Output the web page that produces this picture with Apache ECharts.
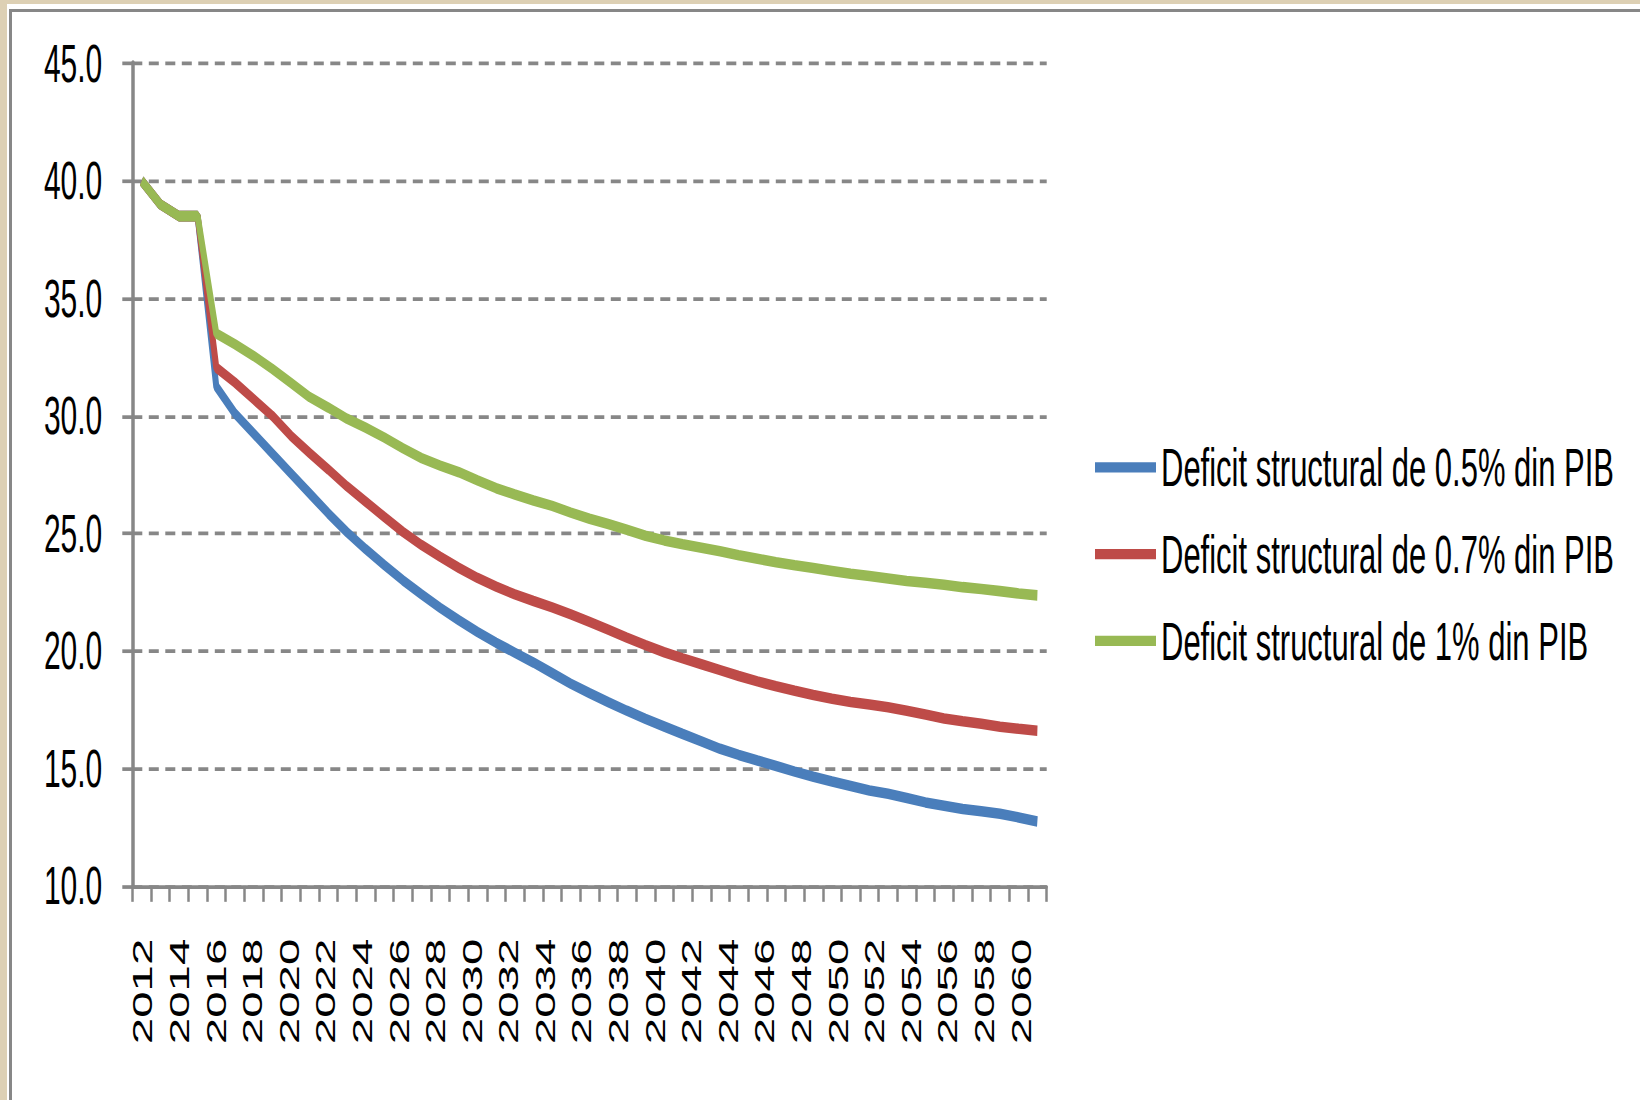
<!DOCTYPE html>
<html>
<head>
<meta charset="utf-8">
<script src="https://cdn.jsdelivr.net/npm/echarts@6.0.0/dist/echarts.min.js"></script>
<style>
  html, body { margin: 0; padding: 0; background: #ffffff; width: 1640px; height: 1100px; overflow: hidden; }
  #beigeL { position: absolute; left: 0; top: 0; width: 7px; height: 1100px; background: #ddd0b4; }
  #beigeT { position: absolute; left: 0; top: 0; width: 1640px; height: 4px; background: #ddd0b4; }
  #frame { position: absolute; left: 9px; top: 9px; width: 1631px; height: 1091px; box-sizing: border-box;
           border-left: 3.5px solid #878787; border-top: 3.5px solid #878787; }
  #chart { position: absolute; left: 0; top: 0; width: 1640px; height: 625px;
           transform: scaleY(1.76); transform-origin: 0 0; }
</style>
</head>
<body>
<div id="beigeL"></div>
<div id="beigeT"></div>
<div id="frame"></div>
<div id="chart"></div>
<script>
// ---- data ----
const years = ['2012','2013','2014','2015','2016','2017','2018','2019','2020','2021',
  '2022','2023','2024','2025','2026','2027','2028','2029','2030','2031',
  '2032','2033','2034','2035','2036','2037','2038','2039','2040','2041',
  '2042','2043','2044','2045','2046','2047','2048','2049','2050','2051',
  '2052','2053','2054','2055','2056','2057','2058','2059','2060'];

const seriesNames = ['Deficit structural de 0.5% din PIB',
                     'Deficit structural de 0.7% din PIB',
                     'Deficit structural de 1% din PIB'];

const deficit05 = [40.0, 39.0, 38.5, 38.5, 31.25, 30.1, 29.25, 28.4, 27.55, 26.7,
  25.85, 25.05, 24.33, 23.65, 23.0, 22.4, 21.83, 21.3, 20.8, 20.34,
  19.92, 19.5, 19.05, 18.6, 18.2, 17.82, 17.45, 17.1, 16.78, 16.46,
  16.15, 15.83, 15.57, 15.33, 15.1, 14.86, 14.64, 14.44, 14.25, 14.06,
  13.92, 13.74, 13.55, 13.41, 13.27, 13.17, 13.07, 12.91, 12.74];

const deficit07 = [40.0, 39.0, 38.5, 38.5, 32.05, 31.42, 30.71, 30.0, 29.15, 28.42,
  27.72, 27.0, 26.35, 25.7, 25.06, 24.5, 24.0, 23.53, 23.1, 22.73,
  22.4, 22.12, 21.85, 21.55, 21.23, 20.9, 20.56, 20.24, 19.94, 19.68,
  19.43, 19.18, 18.93, 18.7, 18.49, 18.3, 18.12, 17.96, 17.82, 17.72,
  17.6, 17.45, 17.29, 17.12, 17.0, 16.9, 16.77, 16.68, 16.6];

const deficit10 = [40.0, 39.0, 38.5, 38.5, 33.5, 33.05, 32.55, 32.0, 31.4, 30.8,
  30.35, 29.88, 29.5, 29.08, 28.62, 28.2, 27.88, 27.6, 27.25, 26.92,
  26.65, 26.4, 26.17, 25.88, 25.62, 25.4, 25.15, 24.9, 24.7, 24.54,
  24.39, 24.24, 24.07, 23.92, 23.77, 23.64, 23.52, 23.4, 23.28, 23.18,
  23.08, 22.97, 22.9, 22.81, 22.71, 22.63, 22.54, 22.44, 22.36];

const yMin = 10, yMax = 45, yStep = 5;

// ---- chart ----
const gray = '#878787';
const chart = echarts.init(document.getElementById('chart'), null, { renderer: 'svg' });
const lineW = 6;
const font = "'Liberation Sans', Arial, sans-serif";

chart.setOption({
  animation: false,
  backgroundColor: 'transparent',
  grid: [
    { left: 132.3, top: 36, width: 914.4, height: 467.3 },
    { left: 133.85, top: 36, width: 896.4, height: 467.3 }
  ],
  legend: {
    orient: 'vertical',
    left: 1090,
    top: 243.5,
    itemWidth: 61,
    itemHeight: 5.8,
    itemGap: 15.3,
    icon: 'rect',
    selectedMode: false,
    textStyle: { fontFamily: font, fontSize: 31, color: '#000', lineHeight: 34 },
    data: seriesNames
  },
  xAxis: [
    {
      type: 'category', gridIndex: 0, data: years, boundaryGap: true,
      axisLine: { show: true, lineStyle: { color: gray, width: 2.1 } },
      axisTick: { show: true, interval: 0, length: 9.1, lineStyle: { color: gray, width: 2.5 } },
      axisLabel: { show: false },
      splitLine: { show: false }
    },
    {
      type: 'category', gridIndex: 1, data: years, boundaryGap: true,
      axisLine: { show: false }, axisTick: { show: false }, splitLine: { show: false },
      axisLabel: {
        show: true, interval: 1, rotate: 90, margin: 30,
        fontFamily: font, fontSize: 27, color: '#000'
      }
    }
  ],
  yAxis: [
    {
      type: 'value', gridIndex: 0, min: yMin, max: yMax, interval: yStep,
      axisLine: { show: true, lineStyle: { color: gray, width: 3.5 } },
      axisTick: { show: true, length: 10, lineStyle: { color: gray, width: 2.1 } },
      axisLabel: {
        margin: 30, fontFamily: font, fontSize: 30, color: '#000',
        padding: [6, 0, 0, 0],
        formatter: v => v.toFixed(1)
      },
      splitLine: { show: true, lineStyle: { color: gray, width: 2.1, type: [10, 6.5] } }
    },
    { type: 'value', gridIndex: 1, min: yMin, max: yMax, show: false }
  ],
  series: [
    { name: seriesNames[0], type: 'line', data: deficit05, xAxisIndex: 0, yAxisIndex: 0,
      symbol: 'none', smooth: false, color: '#4A7EBB', lineStyle: { width: lineW, color: '#4A7EBB' } },
    { name: seriesNames[1], type: 'line', data: deficit07, xAxisIndex: 0, yAxisIndex: 0,
      symbol: 'none', smooth: false, color: '#BE4B48', lineStyle: { width: lineW, color: '#BE4B48' } },
    { name: seriesNames[2], type: 'line', data: deficit10, xAxisIndex: 0, yAxisIndex: 0,
      symbol: 'none', smooth: false, color: '#98B954', lineStyle: { width: lineW, color: '#98B954' } }
  ]
});
</script>
</body>
</html>
